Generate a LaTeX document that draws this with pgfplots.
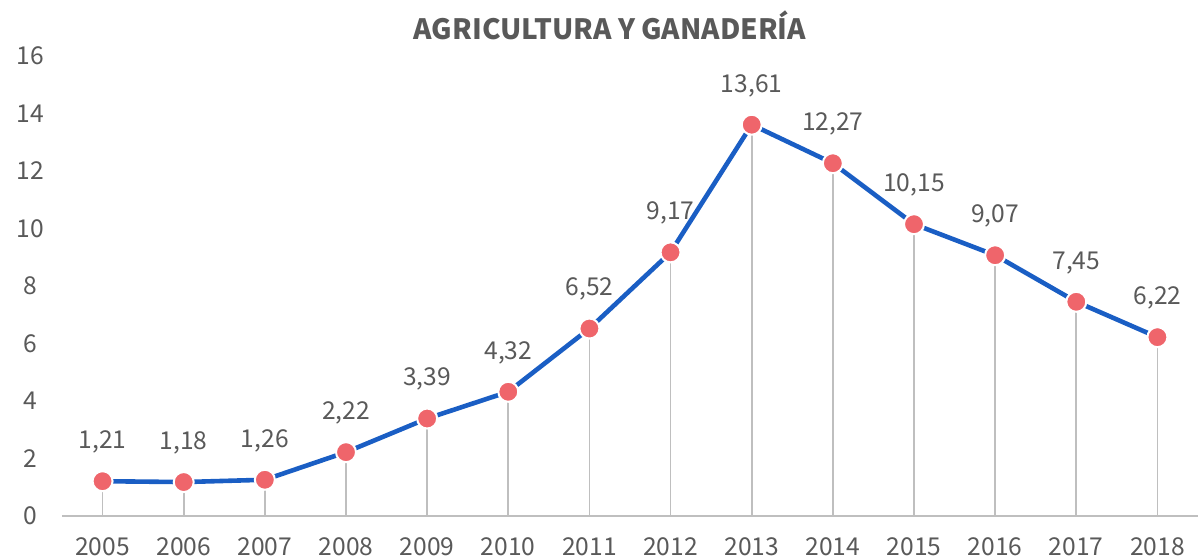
\documentclass[border=0pt]{standalone}
\usepackage{fontspec}
\setmainfont{Noto Sans CJK JP}
\usepackage{pgfplots}
\pgfplotsset{compat=1.18}
\usetikzlibrary{calc}
\definecolor{txt}{HTML}{595959}
\definecolor{lblue}{HTML}{1A5EC4}
\definecolor{mred}{HTML}{EF656B}
\definecolor{dropg}{HTML}{BFBFBF}
\definecolor{axg}{HTML}{BFBFBF}
\begin{document}
\begin{tikzpicture}
\begin{axis}[
  scale only axis,
  width=568pt, height=230pt,
  xmin=-0.5, xmax=13.5,
  ymin=0, ymax=16,
  clip=false,
  axis x line*=bottom,
  axis y line=none,
  x axis line style={draw=axg, line width=0.8pt},
  xtick={0,...,13},
  xticklabels={2005,2006,2007,2008,2009,2010,2011,2012,2013,2014,2015,2016,2017,2018},
  major tick length=0pt,
  xticklabel style={anchor=north, inner sep=0pt, yshift=-10.5pt, text=txt, font=\fontsize{12.3}{14}\selectfont},
  /pgf/number format/assume math mode=true,
]
\coordinate (bl) at (rel axis cs:0,0);
\pgfplotstableread{
x y
0 1.21
1 1.18
2 1.26
3 2.22
4 3.39
5 4.32
6 6.52
7 9.17
8 13.61
9 12.27
10 10.15
11 9.07
12 7.45
13 6.22
}\datatable
\addplot[lblue, line width=2.3pt, no marks] table[x=x,y=y]{\datatable};
\addplot[only marks, mark=*, mark size=5pt, mark options={fill=mred, draw=white, line width=1pt},
  nodes near coords={\pgfmathprintnumber[use comma,fixed,fixed zerofill,precision=2]{\pgfplotspointmeta}},
  every node near coord/.append style={anchor=south, inner sep=0pt, yshift=13.5pt, text=txt, font=\fontsize{12.3}{14}\selectfont}
] table[x=x,y=y]{\datatable};
\addplot[ycomb, dropg, line width=0.8pt, no marks] table[x=x,y=y]{\datatable};
\end{axis}
\foreach \v in {0,2,...,16} {
  \node[anchor=center, text=txt, font=\fontsize{12.3}{14}\selectfont] at ($(bl)+(-16pt,{\v*230/16*1pt})$) {\v};
}
\node[text=txt, font=\bfseries\fontsize{14}{16}\selectfont] at ($(bl)+(274pt,245.5pt)$) {AGRICULTURA Y GANADERÍA};
\pgfresetboundingbox
\path ($(bl)+(-31pt,-22pt)$) rectangle ($(bl)+(568.5pt,258pt)$);
\end{tikzpicture}
\end{document}
